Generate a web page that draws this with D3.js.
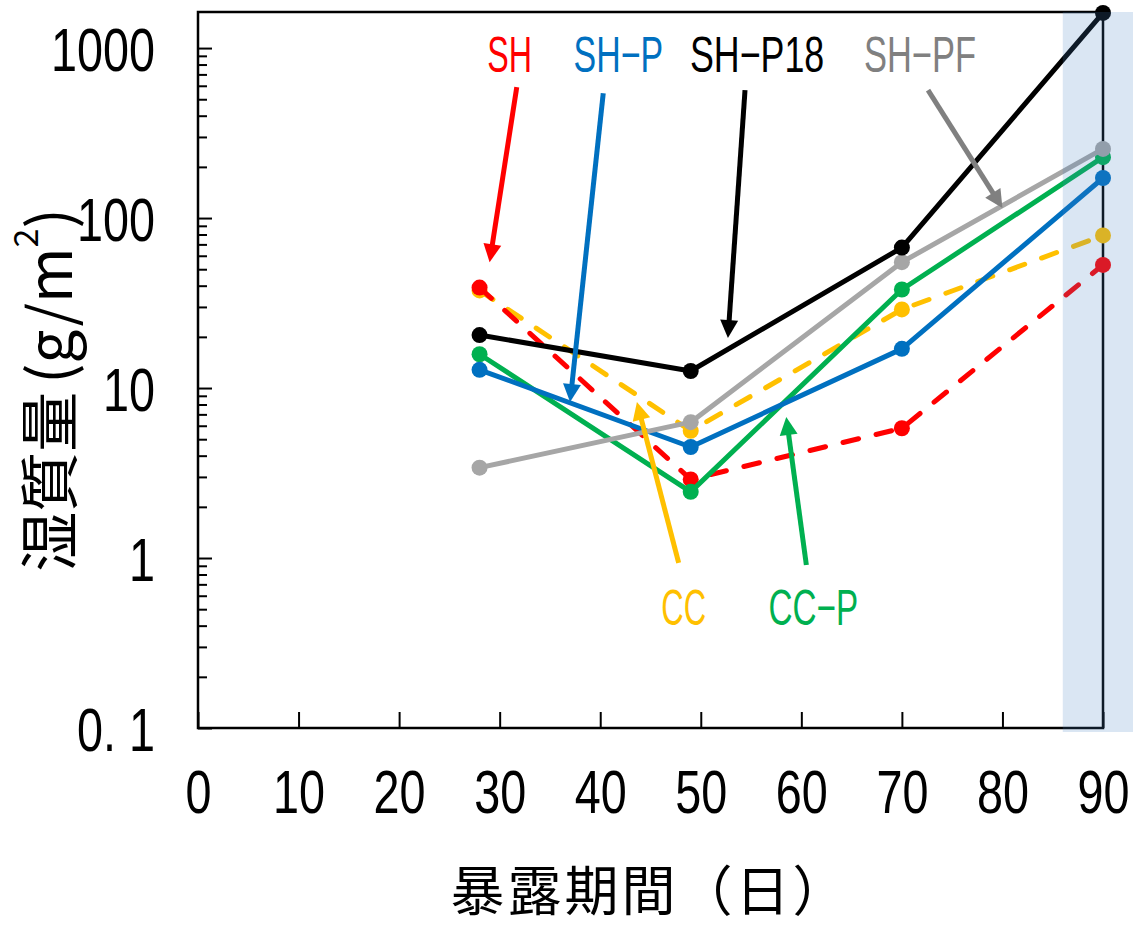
<!DOCTYPE html>
<html>
<head>
<meta charset="utf-8">
<script src="https://cdn.jsdelivr.net/npm/d3@7"></script>
<style>
  html, body { margin: 0; padding: 0; background: #fff; }
  svg { display: block; }
</style>
</head>
<body>
<svg id="chart" width="1136" height="927"></svg>
<script>
// Exposure days at which wet mass was measured
const days = [28, 49, 70, 90];

// Wet mass (g/m²) per specimen series
const valuesSH     = [39, 2.9, 5.8, 53];
const valuesSHP    = [12.8, 4.5, 17, 172];
const valuesSHP18  = [20.5, 12.6, 67, 1610];
const valuesSHPF   = [3.4, 6.3, 55, 255];
const valuesCC     = [37.5, 5.6, 29, 79];
const valuesCCP    = [15.8, 2.45, 38, 228];

// Axis ticks
const xTicks = [0, 10, 20, 30, 40, 50, 60, 70, 80, 90];
const yTicks = [0.1, 1, 10, 100, 1000];
const yTickLabels = ["0. 1", "1", "10", "100", "1000"];

// Highlighted period (days)
const bandDays = [86, 93];

// Series definitions (drawing order: first is bottom)
const series = [
  { name: "CC",     values: valuesCC,    color: "#ffc000", dashed: true },
  { name: "SH",     values: valuesSH,    color: "#ff0000", dashed: true },
  { name: "CC-P",   values: valuesCCP,   color: "#00b050", dashed: false },
  { name: "SH-P",   values: valuesSHP,   color: "#0070c0", dashed: false },
  { name: "SH-PF",  values: valuesSHPF,  color: "#a6a6a6", dashed: false },
  { name: "SH-P18", values: valuesSHP18, color: "#000000", dashed: false }
];

// Callout labels with arrows, in data coordinates (day, g/m²)
const callouts = [
  { text: "SH",          color: "#ff0000", label: [31.0, 723],   from: [31.7, 589],  to: [29.0, 55] },
  { text: "SH\u2212P",   color: "#0070c0", label: [41.8, 723],   from: [40.3, 543],  to: [37.0, 8.27] },
  { text: "SH\u2212P18", color: "#000000", label: [55.6, 723],   from: [54.4, 566],  to: [52.7, 19.7] },
  { text: "SH\u2212PF",  color: "#808080", label: [71.8, 723],   from: [72.6, 566],  to: [80.0, 114.5] },
  { text: "CC",          color: "#ffc000", label: [48.3, 0.404], from: [47.8, 0.935], to: [43.65, 8.27] },
  { text: "CC\u2212P",   color: "#00b050", label: [61.2, 0.404], from: [60.5, 0.91],  to: [58.5, 6.75] }
];

const svg = d3.select("#chart");
const plotLeft = 198, plotRight = 1103, plotTop = 12, plotBottom = 728;

const x = d3.scaleLinear().domain([0, 90]).range([plotLeft, plotRight]);
const y = d3.scaleLog().domain([0.1, 1630]).range([plotBottom, plotTop]);

const tickFont = "'Liberation Sans', Arial, sans-serif";
const cjkFont = "'Noto Sans CJK JP', 'Noto Sans', sans-serif";

// Width for a tick label: narrow digits, tighter punctuation
function tickWidth(s) {
  let w = 0;
  for (const c of s) w += /[0-9]/.test(c) ? 26 : 13;
  return w;
}

// Compress a text horizontally to a target width, keeping its anchor point fixed
function squeeze(sel, targetFn) {
  sel.each(function () {
    const el = this;
    const natural = el.getComputedTextLength();
    const target = targetFn(el.textContent);
    const s = natural > 0 ? target / natural : 1;
    const x0 = +el.getAttribute("x") || 0;
    el.setAttribute("transform", `translate(${x0 * (1 - s)},0) scale(${s},1)`);
  });
}

// Minor log ticks (2..9 in each decade)
const minorTicks = [];
[0.1, 1, 10, 100].forEach(d => { for (let k = 2; k <= 9; k++) minorTicks.push(+(d * k).toPrecision(3)); });

// Y axis minor ticks (inside)
svg.append("g")
  .attr("transform", `translate(${plotLeft},0)`)
  .call(d3.axisLeft(y).tickValues(minorTicks).tickSize(-9).tickFormat(""))
  .call(g => g.select(".domain").remove())
  .call(g => g.selectAll("line").attr("stroke", "#000").attr("stroke-width", 2));

// Y axis major ticks with labels
svg.append("g")
  .attr("transform", `translate(${plotLeft},0)`)
  .call(d3.axisLeft(y).tickValues(yTicks).tickSize(-14).tickPadding(43)
        .tickFormat((d, i) => yTickLabels[i]))
  .call(g => g.select(".domain").remove())
  .call(g => g.selectAll("line").attr("stroke", "#000").attr("stroke-width", 2))
  .call(g => g.selectAll("text")
      .attr("font-family", tickFont)
      .attr("font-size", 62)
      .attr("fill", "#000")
      .attr("dy", "0.36em")
      .call(squeeze, tickWidth));

// X axis ticks with labels
svg.append("g")
  .attr("transform", `translate(0,${plotBottom})`)
  .call(d3.axisBottom(x).tickValues(xTicks).tickSize(-16).tickPadding(41).tickFormat(d3.format("d")))
  .call(g => g.select(".domain").remove())
  .call(g => g.selectAll("line").attr("stroke", "#000").attr("stroke-width", 2))
  .call(g => g.selectAll("text")
      .attr("font-family", tickFont)
      .attr("font-size", 62)
      .attr("fill", "#000")
      .call(squeeze, tickWidth));

// Plot frame
svg.append("rect")
  .attr("x", plotLeft).attr("y", plotTop)
  .attr("width", plotRight - plotLeft).attr("height", plotBottom - plotTop)
  .attr("fill", "none").attr("stroke", "#000").attr("stroke-width", 2.5);

// Series lines and markers
const line = d3.line().x((d, i) => x(days[i])).y(d => y(d));
series.forEach(s => {
  const g = svg.append("g");
  g.append("path")
    .attr("d", line(s.values))
    .attr("fill", "none")
    .attr("stroke", s.color)
    .attr("stroke-width", 5)
    .attr("stroke-linejoin", "round")
    .attr("stroke-linecap", s.dashed ? "round" : "butt")
    .attr("stroke-dasharray", s.dashed ? "16,18" : null);
  g.selectAll("circle")
    .data(s.values)
    .join("circle")
    .attr("cx", (d, i) => x(days[i]))
    .attr("cy", d => y(d))
    .attr("r", 8)
    .attr("fill", s.color);
});

// Callout arrows and labels
const headLen = 18, headHalf = 9;
callouts.forEach(c => {
  const x1 = x(c.from[0]), y1 = y(c.from[1]);
  const x2 = x(c.to[0]),   y2 = y(c.to[1]);
  const dx = x2 - x1, dy = y2 - y1, len = Math.hypot(dx, dy);
  const ux = dx / len, uy = dy / len;
  const bx = x2 - ux * headLen, by = y2 - uy * headLen;
  svg.append("line")
    .attr("x1", x1).attr("y1", y1).attr("x2", bx + ux).attr("y2", by + uy)
    .attr("stroke", c.color).attr("stroke-width", 5);
  svg.append("polygon")
    .attr("points", [
      [x2, y2],
      [bx - uy * headHalf, by + ux * headHalf],
      [bx + uy * headHalf, by - ux * headHalf]
    ].map(p => p.join(",")).join(" "))
    .attr("fill", c.color);
  svg.append("text")
    .attr("x", x(c.label[0])).attr("y", y(c.label[1]))
    .attr("text-anchor", "middle")
    .attr("font-family", tickFont)
    .attr("font-size", 50)
    .attr("fill", c.color)
    .text(c.text)
    .call(squeeze, t => [...t].length * 22.4);
});

// Highlighted period band, translucent over the data
svg.append("rect")
  .attr("x", x(bandDays[0]))
  .attr("y", plotTop)
  .attr("width", 1133 - x(bandDays[0]))
  .attr("height", plotBottom + 4 - plotTop)
  .attr("fill", "rgb(70,130,195)")
  .attr("fill-opacity", 0.2);

// Axis titles
const yTitle = svg.append("text")
  .attr("transform", "translate(45,390) rotate(-90)")
  .attr("text-anchor", "middle")
  .attr("dominant-baseline", "central")
  .attr("font-family", cjkFont)
  .attr("font-size", 60)
  .attr("fill", "#000");
yTitle.append("tspan").text("湿質量");
yTitle.append("tspan").attr("dx", 8).text("(g/m");
yTitle.append("tspan").attr("font-size", 34).attr("dy", "-22").text("2");
yTitle.append("tspan").attr("dy", "22").text(")");

svg.append("text")
  .attr("x", 650).attr("y", 911)
  .attr("text-anchor", "middle")
  .attr("font-family", cjkFont)
  .attr("font-size", 54)
  .attr("letter-spacing", 3)
  .attr("fill", "#000")
  .text("暴露期間（日）");
</script>
</body>
</html>
